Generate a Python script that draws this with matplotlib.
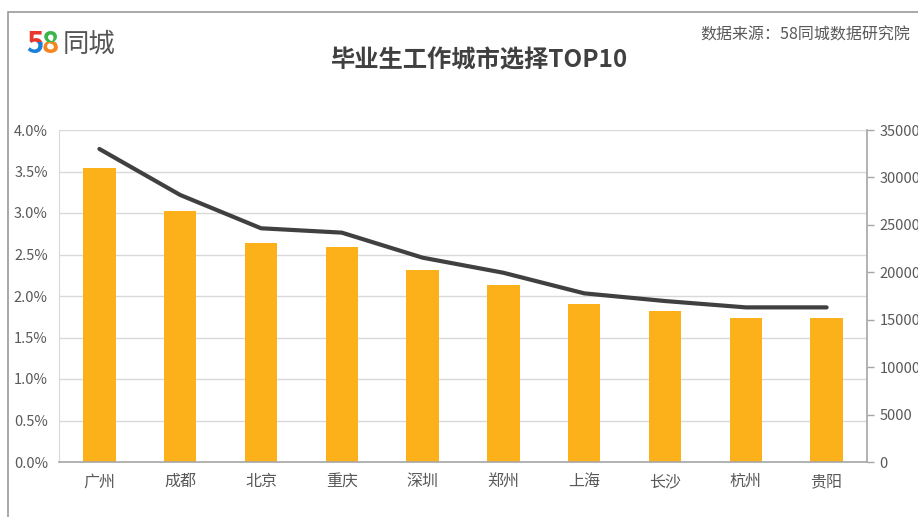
#!/usr/bin/env python3
"""
Graduate job city choice TOP10: share bars (left axis) plus count line (right axis).
"""
import matplotlib

matplotlib.use("Agg")
import matplotlib.pyplot as plt
from matplotlib.patches import Rectangle
from matplotlib.ticker import FuncFormatter, MultipleLocator

plt.rcParams["font.family"] = ["Noto Sans CJK SC", "DejaVu Sans"]

CITIES = ["广州", "成都", "北京", "重庆", "深圳", "郑州", "上海", "长沙", "杭州", "贵阳"]
SHARE_PCT = [3.54, 3.03, 2.635, 2.59, 2.31, 2.13, 1.90, 1.82, 1.74, 1.74]
COUNTS = [33000, 28150, 24640, 24180, 21540, 19950, 17780, 16970, 16300, 16300]

TITLE = "毕业生工作城市选择TOP10"
SOURCE = "数据来源：58同城数据研究院"

BAR_COLOR = "#FCB11B"
LINE_COLOR = "#404040"
TEXT_COLOR = "#595959"
GRID_COLOR = "#D9D9D9"
AXIS_COLOR = "#A6A6A6"


def main() -> None:
    fig = plt.figure(figsize=(9.18, 5.17), dpi=100)

    # outer frame of the original slide (cropped at right/bottom)
    fig.patches.append(
        Rectangle((8 / 918, -0.1), 1.2, 1.1 - 12 / 517, transform=fig.transFigure,
                  fill=False, edgecolor="#9A9A9A", linewidth=1.2)
    )

    ax = fig.add_axes([59 / 918, 55 / 517, 808 / 918, 332 / 517])
    x = list(range(len(CITIES)))
    ax.bar(x, SHARE_PCT, width=0.4, color=BAR_COLOR, zorder=2)
    ax.set_xlim(-0.5, len(CITIES) - 0.5)
    ax.set_ylim(0, 4.0)
    ax.yaxis.set_major_locator(MultipleLocator(0.5))
    ax.yaxis.set_major_formatter(FuncFormatter(lambda v, _: f"{v:.1f}%"))
    ax.set_xticks(x)
    ax.set_xticklabels(CITIES, fontsize=11.5, color=TEXT_COLOR)
    ax.tick_params(axis="x", length=0, pad=8)
    ax.tick_params(axis="y", length=0, pad=8, labelsize=10.5, labelcolor=TEXT_COLOR)
    ax.grid(axis="y", color=GRID_COLOR, linewidth=1.0, zorder=0)
    ax.set_axisbelow(True)
    for side in ("top", "right"):
        ax.spines[side].set_visible(False)
    ax.spines["left"].set_color(GRID_COLOR)
    ax.spines["bottom"].set_color(AXIS_COLOR)
    ax.spines["bottom"].set_linewidth(1.2)

    ax2 = ax.twinx()
    ax2.plot(x, COUNTS, color=LINE_COLOR, linewidth=3, solid_capstyle="round", zorder=3)
    ax2.set_ylim(0, 35000)
    ax2.yaxis.set_major_locator(MultipleLocator(5000))
    ax2.tick_params(axis="y", direction="out", length=5, width=1, color=AXIS_COLOR,
                    pad=4, labelsize=10.5, labelcolor=TEXT_COLOR)
    for side in ("top", "left", "bottom"):
        ax2.spines[side].set_visible(False)
    ax2.spines["right"].set_color(AXIS_COLOR)
    ax2.spines["right"].set_linewidth(1.2)

    fig.text(0.522, 0.884, TITLE, ha="center", va="center", fontsize=17.5,
             fontweight="bold", color="#404040")
    fig.text(0.992, 0.932, SOURCE, ha="right", va="center", fontsize=11.5, color=TEXT_COLOR)

    # logo: two-coloured digits, grey characters
    logo_y = 1 - 44 / 517
    for ch, x0, top_col, bot_col in [("5", 26, "#E8382E", "#1C7FD8"), ("8", 42, "#3BB54A", "#F5861F")]:
        for col, lo, hi in [(top_col, logo_y, 1.0), (bot_col, 0.0, logo_y + 0.004)]:
            t = fig.text(x0 / 918, logo_y, ch, ha="left", va="center", fontsize=21,
                         fontweight="bold", color=col)
            clip = Rectangle((0, lo), 1, hi - lo, transform=fig.transFigure)
            t.set_clip_path(clip)
    fig.text(63 / 918, logo_y, "同城", ha="left", va="center", fontsize=19, color="#555555")

    fig.savefig("out.png", dpi=100)


if __name__ == "__main__":
    main()
